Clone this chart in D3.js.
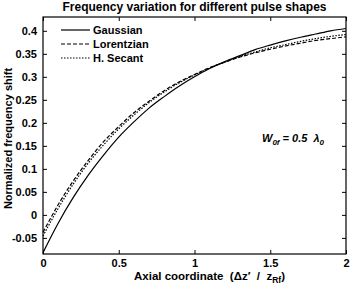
<!DOCTYPE html>
<html><head><meta charset="utf-8">
<script src="https://cdn.jsdelivr.net/npm/d3@7"></script>
<style>body{margin:0;background:#fff}svg{display:block}text{font-family:"Liberation Sans",Arial,sans-serif;font-weight:bold;fill:#000}</style>
</head><body><svg id="c" width="350" height="285"></svg>
<script>
const xs = [0,0.1,0.2,0.3,0.4,0.5,0.6,0.7,0.8,0.9,1.0,1.1,1.2,1.3,1.4,1.5,1.6,1.7,1.8,1.9,2.0];
const gaussian = [-0.082,-0.018,0.038,0.087,0.130,0.169,0.202,0.232,0.257,0.280,0.300,0.318,0.333,0.346,0.359,0.369,0.378,0.386,0.393,0.400,0.405];
const lorentzian = [-0.038,0.022,0.074,0.119,0.159,0.192,0.222,0.247,0.270,0.289,0.305,0.320,0.332,0.343,0.352,0.360,0.367,0.373,0.379,0.383,0.387];
const hsecant = [-0.046,0.014,0.067,0.113,0.152,0.187,0.217,0.244,0.267,0.287,0.304,0.319,0.332,0.344,0.354,0.363,0.370,0.377,0.383,0.388,0.392];
const seriesNames = ["Gaussian","Lorentzian","H. Secant"];
const xTicks = [0,0.5,1,1.5,2];
const yTicks = [-0.05,0,0.05,0.1,0.15,0.2,0.25,0.3,0.35,0.4];

const svg = d3.select("#c");
const L=43, R=346, T=17, B=254;
const x = d3.scaleLinear().domain([0,2]).range([L,R]);
const y = d3.scaleLinear().domain([-0.085,0.43]).range([B,T]);

const dashes = [null,"4,2","1.5,1.5"];
const data = [gaussian,lorentzian,hsecant];
const line = d3.line().x((d,i)=>x(xs[i])).y(d=>y(d)).curve(d3.curveMonotoneX);
const g = svg.append("g");
data.forEach((s,k)=>{
  g.append("path").attr("d",line(s)).attr("fill","none").attr("stroke","#000")
   .attr("stroke-width",1.2).attr("stroke-dasharray",dashes[k]);
});

// axes
const fmt = d=> d===0?"0":String(d);
const ax = svg.append("g").attr("transform",`translate(0,${B})`)
  .call(d3.axisBottom(x).tickValues(xTicks).tickSize(-4).tickPadding(5).tickFormat(d=>String(d)));
const axT = svg.append("g").attr("transform",`translate(0,${T})`)
  .call(d3.axisTop(x).tickValues(xTicks).tickSize(-4).tickFormat(""));
const ay = svg.append("g").attr("transform",`translate(${L},0)`)
  .call(d3.axisLeft(y).tickValues(yTicks).tickSize(-4).tickPadding(6).tickFormat(fmt));
const ayR = svg.append("g").attr("transform",`translate(${R},0)`)
  .call(d3.axisRight(y).tickValues(yTicks).tickSize(-4).tickFormat(""));
[ax,axT,ay,ayR].forEach(a=>{
  a.select(".domain").remove();
  a.selectAll("line").attr("stroke","#000").attr("stroke-width",1);
  a.selectAll("text").style("font-size","11px").style("font-weight","bold").attr("fill","#000");
});
svg.append("rect").attr("x",L).attr("y",T).attr("width",R-L).attr("height",B-T)
  .attr("fill","none").attr("stroke","#000").attr("stroke-width",1.2);

// title & labels
svg.append("text").attr("x",(L+R)/2).attr("y",11).attr("text-anchor","middle")
  .style("font-size","12px").text("Frequency variation for different pulse shapes");
const xl = svg.append("text").attr("x",(L+R)/2 + 15).attr("y",280).attr("text-anchor","middle").style("font-size","11.5px")
  .style("white-space","pre");
xl.append("tspan").text("Axial coordinate  (Δz′  /  z");
xl.append("tspan").attr("dy",3).style("font-size","8.5px").text("Rf");
xl.append("tspan").attr("dy",-3).text(")");
svg.append("text").attr("transform",`translate(12,${(T+B)/2 + 3}) rotate(-90)`).attr("text-anchor","middle")
  .style("font-size","11px").text("Normalized frequency shift");

// legend
const leg = svg.append("g");
seriesNames.forEach((n,k)=>{
  const yy = 30+k*14;
  leg.append("line").attr("x1",61).attr("x2",90).attr("y1",yy).attr("y2",yy)
    .attr("stroke","#000").attr("stroke-width",1.2).attr("stroke-dasharray",dashes[k]);
  leg.append("text").attr("x",93).attr("y",yy+4).style("font-size","11px").text(n);
});

// annotation
const an = svg.append("text").attr("x",262).attr("y",142).style("font-size","11px").style("font-style","italic")
  .style("white-space","pre");
an.append("tspan").text("W");
an.append("tspan").attr("dy",3).style("font-size","8px").text("0f");
an.append("tspan").attr("dy",-3).text(" = 0.5  λ");
an.append("tspan").attr("dy",3).style("font-size","8px").text("0");
</script></body></html>
